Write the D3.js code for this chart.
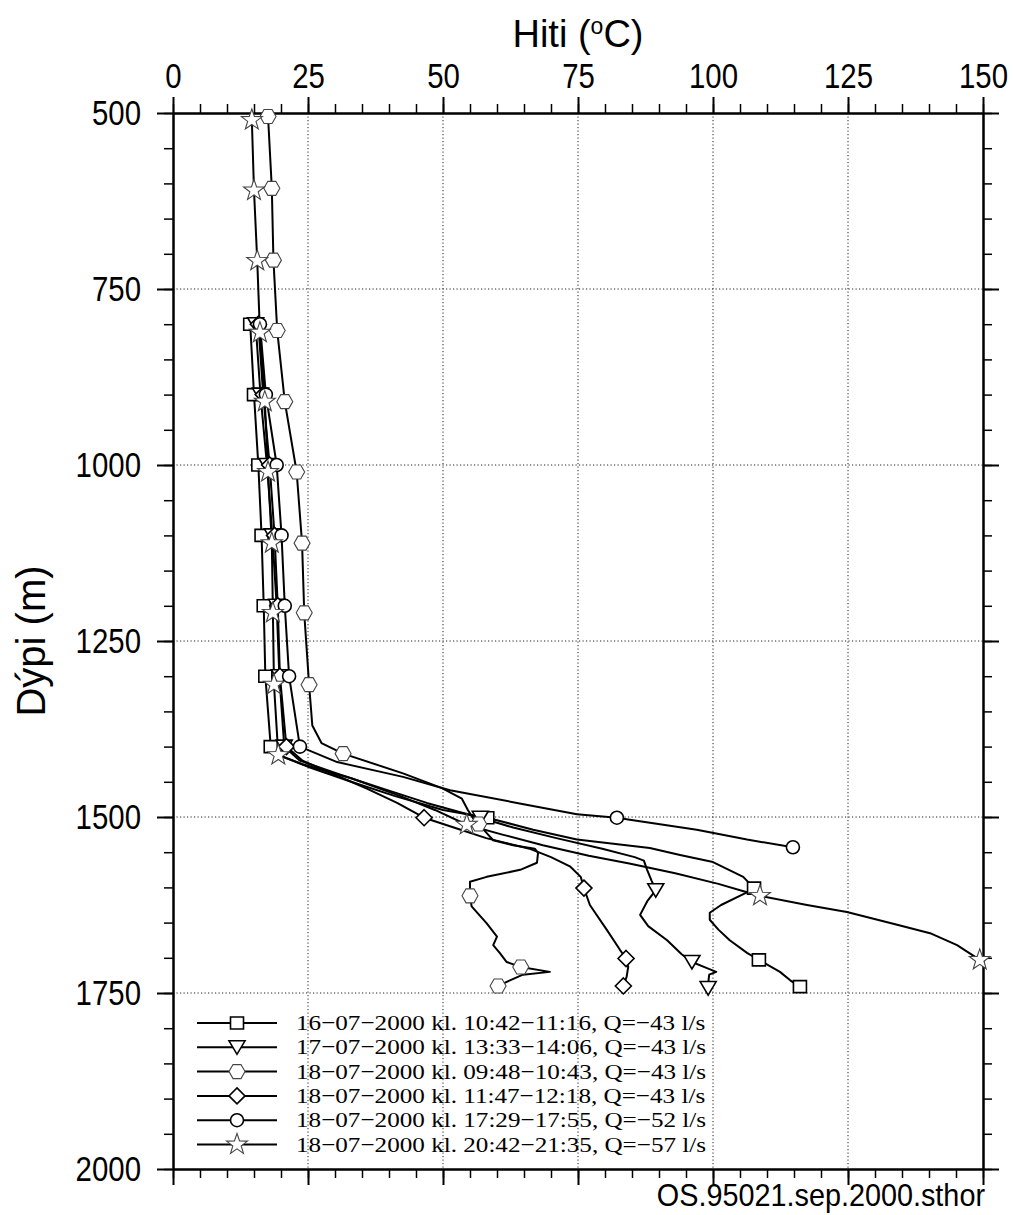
<!DOCTYPE html>
<html>
<head>
<meta charset="utf-8">
<script src="https://cdn.jsdelivr.net/npm/d3@7"></script>
<style>
	body { margin: 0; background: #fff; }
	svg { display: block; }
</style>
</head>
<body>
<div id="___temp_chart"></div>
<script>
// Hitamælingar í holu, dýpi (m) á móti hita (°C)
const xMajor = [0, 25, 50, 75, 100, 125, 150];
const yMajor = [500, 750, 1000, 1250, 1500, 1750, 2000];

const labels = [
	"16\u221207\u22122000 kl. 10:42\u221211:16, Q=\u221243 l/s",
	"17\u221207\u22122000 kl. 13:33\u221214:06, Q=\u221243 l/s",
	"18\u221207\u22122000 kl. 09:48\u221210:43, Q=\u221243 l/s",
	"18\u221207\u22122000 kl. 11:47\u221212:18, Q=\u221243 l/s",
	"18\u221207\u22122000 kl. 17:29\u221217:55, Q=\u221252 l/s",
	"18\u221207\u22122000 kl. 20:42\u221221:35, Q=\u221257 l/s"
];
const symbols = ["square", "triangle", "hexagon", "diamond", "circle", "star"];

// [dýpi, hiti]
const sqLine = [[800,14.3],[900,15.0],[1000,15.8],[1100,16.4],[1200,16.8],[1300,17.1],[1400,18.1],[1415,20.5],[1430,25.5],[1450,33],[1470,41],[1490,50],[1501,58.2],[1518,66.7],[1532,74.8],[1544,88.3],[1554,93.9],[1564,100],[1585,105.6],[1601,107.6],[1608,106],[1625,101.5],[1636,99.4],[1646,99.4],[1660,101],[1675,103.1],[1693,106.3],[1703,108.5],[1720,112.4],[1732,114.3],[1741,116.1]];
const triLine = [[800,15.3],[900,16.2],[1000,17.4],[1100,18.4],[1200,19.2],[1300,19.7],[1400,20.6],[1420,23.5],[1440,31],[1460,39],[1480,47],[1501,56.9],[1515,63],[1530,71],[1545,79.5],[1557,85.5],[1562,87.2],[1575,87.8],[1590,88.6],[1604,89.4],[1620,87.8],[1639,86.5],[1655,88],[1675,91.5],[1695,94.2],[1706,96.1],[1715,99],[1720,100.6],[1724,99.3],[1730,99.2],[1743,99.1]];
const hexLine = [[505,17.6],[607,18.3],[709,18.6],[809,19.3],[910,20.7],[1010,22.9],[1111,23.9],[1210,24.3],[1312,25.2],[1370,25.8],[1395,27.5],[1410,31.5],[1438,42.6],[1459,49.8],[1474,53.5],[1490,54.6],[1502,55.6],[1510,56.6],[1523,58.1],[1533,59.3],[1540,63],[1545,67],[1551,67.6],[1565,67.4],[1575,64.3],[1585,58.1],[1592,55],[1612,55],[1627,55.3],[1651,58.1],[1670,60],[1682,59.3],[1693,60.5],[1706,61.8],[1713,64.4],[1720,69.8],[1724,64.8],[1732,62.4],[1740,60.2]];
const diaLine = [[800,15.8],[900,16.7],[1000,17.9],[1100,18.8],[1200,19.4],[1300,19.8],[1400,21.0],[1420,24],[1440,30],[1460,36],[1480,41.5],[1501,46.5],[1515,52],[1530,58],[1545,66],[1557,70],[1570,73.5],[1585,75.5],[1601,76.1],[1625,77.2],[1661,80.4],[1689,82.8],[1701,83.9],[1713,84.3],[1727,84],[1740,83.4]];
const cirLine = [[800,16.1],[900,17.2],[1000,19.2],[1100,20.1],[1200,20.7],[1300,21.5],[1400,23.5],[1422,30.4],[1443,42.6],[1462,51.3],[1480,63.7],[1496,74.8],[1501,82.2],[1504,84.6],[1518,97],[1532,106.3],[1543,114.8]];
const starLine = [[510,14.6],[610,15.0],[710,15.6],[812,16.1],[910,17.0],[1010,17.6],[1111,18.3],[1210,18.5],[1312,18.7],[1412,19.5],[1425,24],[1445,33],[1470,42],[1490,48.5],[1511,54.4],[1525,61],[1540,68.5],[1555,77],[1566,84.5],[1580,93],[1595,101],[1605,105.5],[1612,108.7],[1625,117.4],[1635,124.8],[1653,134.1],[1665,140.2],[1682,145.2],[1703,149.4]];

// dýpi þar sem merki eru sett á ferilinn
const sqMarks = [800,900,1000,1100,1200,1300,1400,1501,1601,1703,1741];
const triMarks = [800,900,1000,1100,1200,1300,1400,1501,1604,1706,1743];
const hexMarks = [505,607,709,809,910,1010,1111,1210,1312,1410,1510,1612,1713,1740];
const diaMarks = [800,900,1000,1100,1200,1300,1400,1501,1601,1701,1740];
const cirMarks = [800,900,1000,1100,1200,1300,1400,1501,1543];
const starMarks = [510,610,710,812,910,1010,1111,1210,1312,1412,1511,1612,1703];

const series = [
	{ line: sqLine, marks: sqMarks },
	{ line: triLine, marks: triMarks },
	{ line: hexLine, marks: hexMarks },
	{ line: diaLine, marks: diaMarks },
	{ line: cirLine, marks: cirMarks },
	{ line: starLine, marks: starMarks }
];

var width = 1013, height = 1215;
var margin = { left: 173, right: 983, top: 113, bottom: 1169 };

var svg = d3.select("#___temp_chart")
	.append("svg")
	.attr("width", width)
	.attr("height", height);

var x = d3.scaleLinear().domain([0, 150]).range([margin.left, margin.right]);
var y = d3.scaleLinear().domain([500, 2000]).range([margin.top, margin.bottom]);

var xMinor = d3.range(0, 151, 5);
var yMinor = d3.range(500, 2001, 50);

// grid
var grid = svg.append("g")
	.attr("stroke", "#222")
	.attr("stroke-width", 1)
	.attr("stroke-dasharray", "1.2,2.3");
grid.selectAll(".gx")
	.data(xMajor.slice(1, -1))
	.enter()
	.append("line")
	.attr("x1", d => x(d)).attr("x2", d => x(d))
	.attr("y1", margin.top).attr("y2", margin.bottom);
grid.selectAll(".gy")
	.data(yMajor.slice(1, -1))
	.enter()
	.append("line")
	.attr("x1", margin.left).attr("x2", margin.right)
	.attr("y1", d => y(d)).attr("y2", d => y(d));

// axes
function styleAxis(g, w) {
	g.select(".domain").attr("stroke", "#000").attr("stroke-width", 2);
	g.selectAll(".tick line").attr("stroke", "#000").attr("stroke-width", w);
}

function addAxis(axis, tx, ty, values, size, w) {
	var g = svg.append("g")
		.attr("transform", "translate(" + tx + "," + ty + ")")
		.call(axis.tickValues(values).tickSize(size).tickSizeOuter(0));
	styleAxis(g, w);
	return g;
}

var fmt = d3.format("d");
addAxis(d3.axisTop(x).tickFormat(""), 0, margin.top, xMinor, 9, 1.5);
var topMajor = addAxis(d3.axisTop(x).tickFormat(fmt).tickPadding(9), 0, margin.top, xMajor, 16, 2);
addAxis(d3.axisBottom(x).tickFormat(""), 0, margin.bottom, xMinor, 9, 1.5);
addAxis(d3.axisBottom(x).tickFormat(""), 0, margin.bottom, xMajor, 16, 2);
addAxis(d3.axisLeft(y).tickFormat(""), margin.left, 0, yMinor, 9, 1.5);
var leftMajor = addAxis(d3.axisLeft(y).tickFormat(fmt).tickPadding(16), margin.left, 0, yMajor, 16, 2);
addAxis(d3.axisRight(y).tickFormat(""), margin.right, 0, yMinor, 9, 1.5);
addAxis(d3.axisRight(y).tickFormat(""), margin.right, 0, yMajor, 16, 2);

var squeeze = 0.84;
topMajor.selectAll("text")
	.attr("fill", "#000")
	.style("font-family", "'Liberation Sans', Arial, sans-serif")
	.style("font-size", "35px")
	.attr("transform", "scale(" + squeeze + ",1)");
leftMajor.selectAll("text")
	.attr("fill", "#000")
	.style("font-family", "'Liberation Sans', Arial, sans-serif")
	.style("font-size", "35px")
	.attr("x", -32 / squeeze)
	.attr("transform", "scale(" + squeeze + ",1)");

// titlar
var xt = svg.append("text")
	.attr("x", (margin.left + margin.right) / 2)
	.attr("y", 47)
	.attr("text-anchor", "middle")
	.style("font-family", "'Liberation Sans', Arial, sans-serif")
	.style("font-size", "38px");
xt.append("tspan").text("Hiti (");
xt.append("tspan").text("o").style("font-size", "23px").attr("dy", -13);
xt.append("tspan").text("C)").attr("dy", 13);

svg.append("text")
	.attr("transform", "translate(45," + (margin.top + margin.bottom) / 2 + ") rotate(-90)")
	.attr("text-anchor", "middle")
	.style("font-family", "'Liberation Sans', Arial, sans-serif")
	.style("font-size", "40px")
	.text("Dýpi (m)");

svg.append("text")
	.attr("transform", "translate(985,1206) scale(0.9,1)")
	.attr("text-anchor", "end")
	.style("font-family", "'Liberation Sans', Arial, sans-serif")
	.style("font-size", "32px")
	.text("OS.95021.sep.2000.sthor");

// merki
function markerPath(kind) {
	var p = d3.path();
	if (kind === "square") {
		p.rect(-6.5, -6, 13, 12);
	} else if (kind === "triangle") {
		p.moveTo(-8, -6.5); p.lineTo(8, -6.5); p.lineTo(0, 7); p.closePath();
	} else if (kind === "diamond") {
		p.moveTo(0, -8); p.lineTo(8, 0); p.lineTo(0, 8); p.lineTo(-8, 0); p.closePath();
	} else if (kind === "circle") {
		p.arc(0, 0, 6.5, 0, 2 * Math.PI);
	} else if (kind === "hexagon") {
		var hx = [8, 4, -4, -8, -4, 4], hy = [0, 7, 7, 0, -7, -7];
		p.moveTo(hx[0], hy[0]);
		for (var i = 1; i < 6; i++) p.lineTo(hx[i], hy[i]);
		p.closePath();
	} else if (kind === "star") {
		for (var k = 0; k < 10; k++) {
			var r = k % 2 === 0 ? 11 : 4.4;
			var b = -Math.PI / 2 + k * Math.PI / 5;
			if (k === 0) p.moveTo(r * Math.cos(b), r * Math.sin(b));
			else p.lineTo(r * Math.cos(b), r * Math.sin(b));
		}
		p.closePath();
	}
	return p.toString();
}

function markerStroke(kind) {
	return (kind === "star" || kind === "hexagon") ? "#444" : "#000";
}
function markerWidth(kind) {
	return (kind === "star" || kind === "hexagon") ? 1.1 : 1.6;
}

var line = d3.line()
	.x(d => x(d[1]))
	.y(d => y(d[0]));

var lines = svg.append("g");
series.forEach(function (s) {
	lines.append("path")
		.datum(s.line)
		.attr("fill", "none")
		.attr("stroke", "#000")
		.attr("stroke-width", 2)
		.attr("stroke-linejoin", "round")
		.attr("d", line);
});

var marks = svg.append("g");
series.forEach(function (s, i) {
	var pts = s.marks.map(dp => s.line.find(p => p[0] === dp));
	marks.append("g")
		.selectAll("path")
		.data(pts)
		.enter()
		.append("path")
		.attr("transform", d => "translate(" + x(d[1]) + "," + y(d[0]) + ")")
		.attr("d", markerPath(symbols[i]))
		.attr("fill", "#fff")
		.attr("stroke", markerStroke(symbols[i]))
		.attr("stroke-width", markerWidth(symbols[i]));
});

// skýringar
var legend = svg.append("g").attr("transform", "translate(197,1023)");
var rows = legend.selectAll("g")
	.data(labels)
	.enter()
	.append("g")
	.attr("transform", (d, i) => "translate(0," + i * 24.3 + ")");
rows.append("line")
	.attr("x1", 0).attr("x2", 80)
	.attr("stroke", "#000").attr("stroke-width", 2);
rows.append("path")
	.attr("transform", "translate(40,0)")
	.attr("d", (d, i) => markerPath(symbols[i]))
	.attr("fill", "#fff")
	.attr("stroke", (d, i) => markerStroke(symbols[i]))
	.attr("stroke-width", (d, i) => markerWidth(symbols[i]));
rows.append("text")
	.attr("transform", "translate(99,7) scale(1.17,1)")
	.style("font-family", "'Liberation Serif', 'Times New Roman', serif")
	.style("font-size", "21.5px")
	.text(d => d);
</script>
</body>
</html>
